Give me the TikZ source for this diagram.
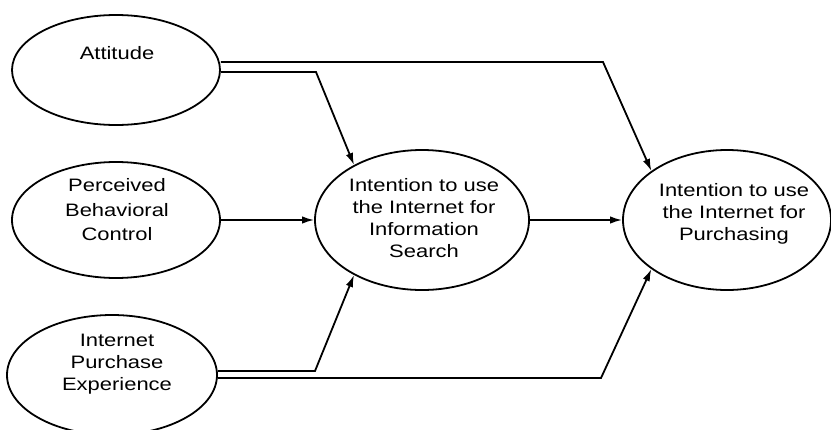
\documentclass[tikz,border=0pt]{standalone}
\usepackage{fontspec}
\newfontfamily\diagfont[FakeStretch=1.22]{Liberation Sans}
\usetikzlibrary{arrows.meta,shapes.geometric}
\begin{document}
\begin{tikzpicture}[x=1pt,y=-1pt,
  ell/.style={draw, ellipse, line width=1.8pt, inner sep=0pt},
  lbl/.style={font=\diagfont\fontsize{18}{22}\selectfont, align=center, inner sep=0pt},
  lblwide/.style={font=\diagfont\fontsize{18}{24.5}\selectfont, align=center, inner sep=0pt},
  link/.style={line width=1.8pt, line join=miter},
  arr/.style={link, -{Latex[length=12pt,width=7.5pt]}}]
\useasboundingbox (0,0) rectangle (831,429);

% ellipses
\node[ell, minimum width=208pt, minimum height=110pt] (att)  at (116,70)  {};
\node[ell, minimum width=208pt, minimum height=116pt] (pbc)  at (116,220) {};
\node[ell, minimum width=210pt, minimum height=120pt] (ipe)  at (112,375) {};
\node[ell, minimum width=214pt, minimum height=140pt] (info) at (422,220) {};
\node[ell, minimum width=208pt, minimum height=140pt] (pur)  at (727,220) {};

% labels
\node[lbl]     (tatt)  at (117,53)    {Attitude};
\node[lblwide] (tpbc)  at (117,210)   {Perceived\\Behavioral\\Control};
\node[lbl]     (tipe)  at (117,364)   {Internet\\Purchase\\Experience};
\node[lbl]     (tinfo) at (424,217.7) {Intention to use\\the Internet for\\Information\\Search};
\node[lbl]     (tpur)  at (734,214)   {Intention to use\\the Internet for\\Purchasing};

% bends of the routed connectors
\coordinate (c1) at (603,62);
\coordinate (c2) at (316,72);
\coordinate (c3) at (315,371);
\coordinate (c4) at (601,378);

% connectors
\draw[arr] ([yshift=8pt]att.east)  -- (c1) -- (pur.147);
\draw[arr] ([yshift=-2pt]att.east) -- (c2) -- (info.141);
\draw[arr] (pbc.east) -- (info.west);
\draw[arr] (info.east) -- (pur.west);
\draw[arr] ([yshift=4pt]ipe.east)  -- (c3) -- (info.219);
\draw[arr] ([yshift=-3pt]ipe.east) -- (c4) -- (pur.213);
\end{tikzpicture}
\end{document}
